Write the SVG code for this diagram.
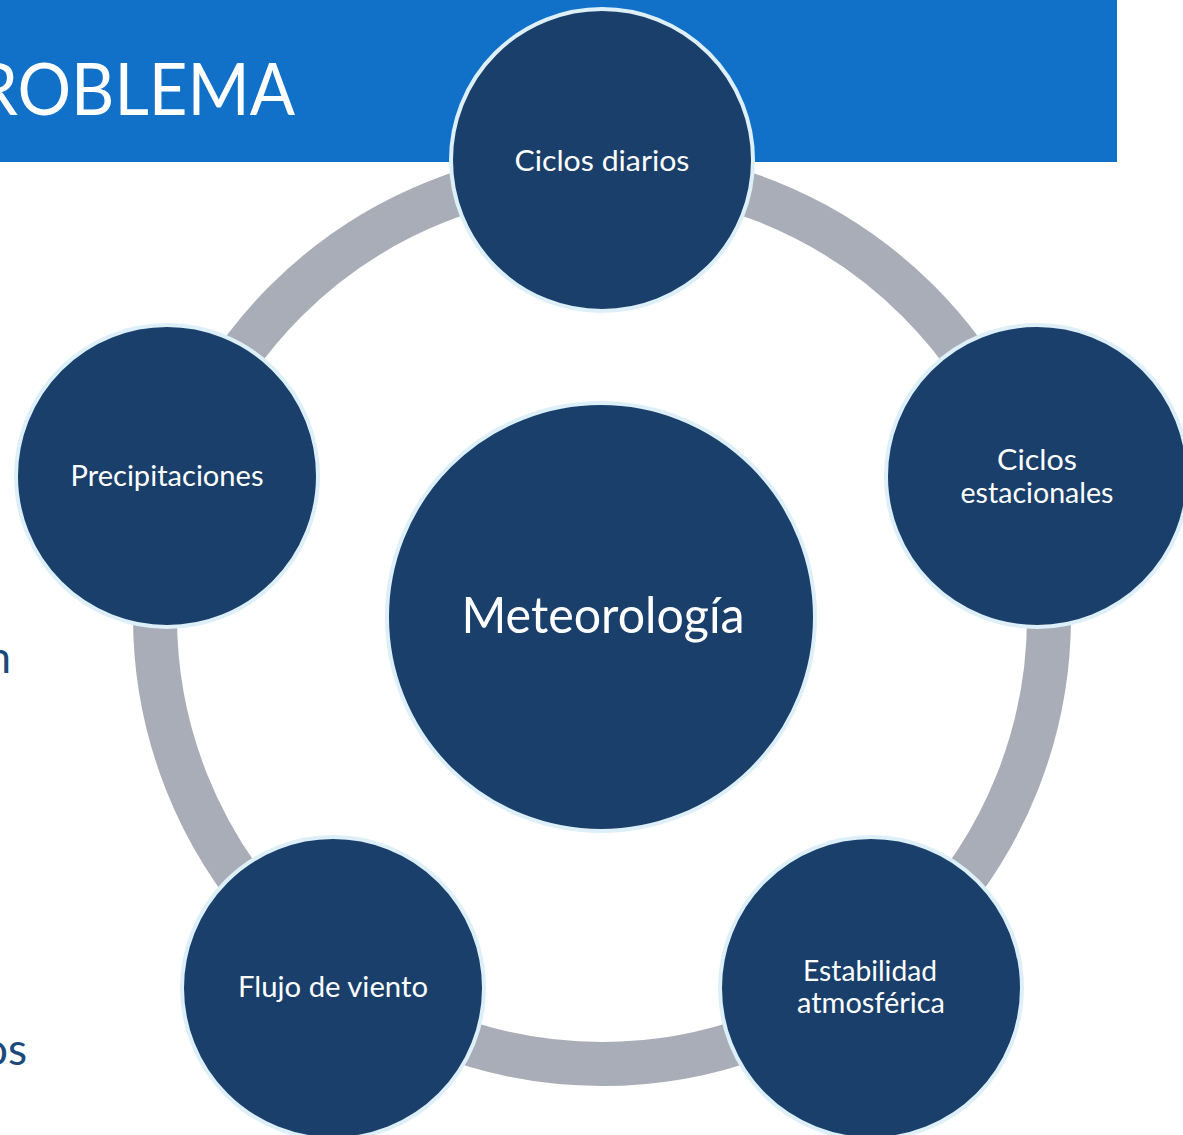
<svg xmlns="http://www.w3.org/2000/svg" width="1183" height="1135" viewBox="0 0 1183 1135">
  <style>
    .node { fill: #1A3F6B; stroke: #DDEFF9; stroke-width: 4; }
    .lbl { font-family: Lato, "Liberation Sans", sans-serif; fill: #FFFFFF; text-anchor: middle; font-size: 28px; }
    .side { font-family: Lato, "Liberation Sans", sans-serif; fill: #1B4A7A; font-size: 44px; text-anchor: end; }
  </style>
  <rect width="1183" height="1135" fill="#FFFFFF"/>
  <g id="banner">
    <rect x="0" y="0" width="1117" height="162" fill="#1170C8"/>
    <text x="-24" y="115" font-family="Lato, 'Liberation Sans', sans-serif" font-size="72" fill="#FFFFFF" textLength="319" lengthAdjust="spacingAndGlyphs">ROBLEMA</text>
  </g>
  <g id="side-text">
    <text class="side" x="11" y="673">n</text>
    <text class="side" x="27" y="1065">os</text>
  </g>
  <g id="connectors">
    <circle cx="602" cy="617" r="447" fill="none" stroke="#A9ADB8" stroke-width="44"/>
  </g>
  <g id="center">
    <circle class="node" cx="601" cy="617" r="214"/>
    <text class="lbl" x="603" y="633" font-size="50" style="font-size:50px" textLength="283" lengthAdjust="spacingAndGlyphs">Meteorología</text>
  </g>
  <g id="n-ciclos-diarios">
    <circle class="node" cx="602" cy="160" r="151"/>
    <text class="lbl" x="602" y="171" textLength="175" lengthAdjust="spacingAndGlyphs">Ciclos diarios</text>
  </g>
  <g id="n-ciclos-estacionales">
    <circle class="node" cx="1037" cy="476" r="151"/>
    <text class="lbl" x="1037" y="470" textLength="80" lengthAdjust="spacingAndGlyphs">Ciclos</text>
    <text class="lbl" x="1037" y="503" textLength="153" lengthAdjust="spacingAndGlyphs">estacionales</text>
  </g>
  <g id="n-estabilidad">
    <circle class="node" cx="871" cy="988" r="151"/>
    <text class="lbl" x="870" y="981" textLength="134" lengthAdjust="spacingAndGlyphs">Estabilidad</text>
    <text class="lbl" x="871" y="1013" textLength="148" lengthAdjust="spacingAndGlyphs">atmosférica</text>
  </g>
  <g id="n-flujo">
    <circle class="node" cx="333" cy="988" r="151"/>
    <text class="lbl" x="333" y="997" textLength="190" lengthAdjust="spacingAndGlyphs">Flujo de viento</text>
  </g>
  <g id="n-precipitaciones">
    <circle class="node" cx="167" cy="476" r="151"/>
    <text class="lbl" x="167" y="486" textLength="193" lengthAdjust="spacingAndGlyphs">Precipitaciones</text>
  </g>
</svg>
